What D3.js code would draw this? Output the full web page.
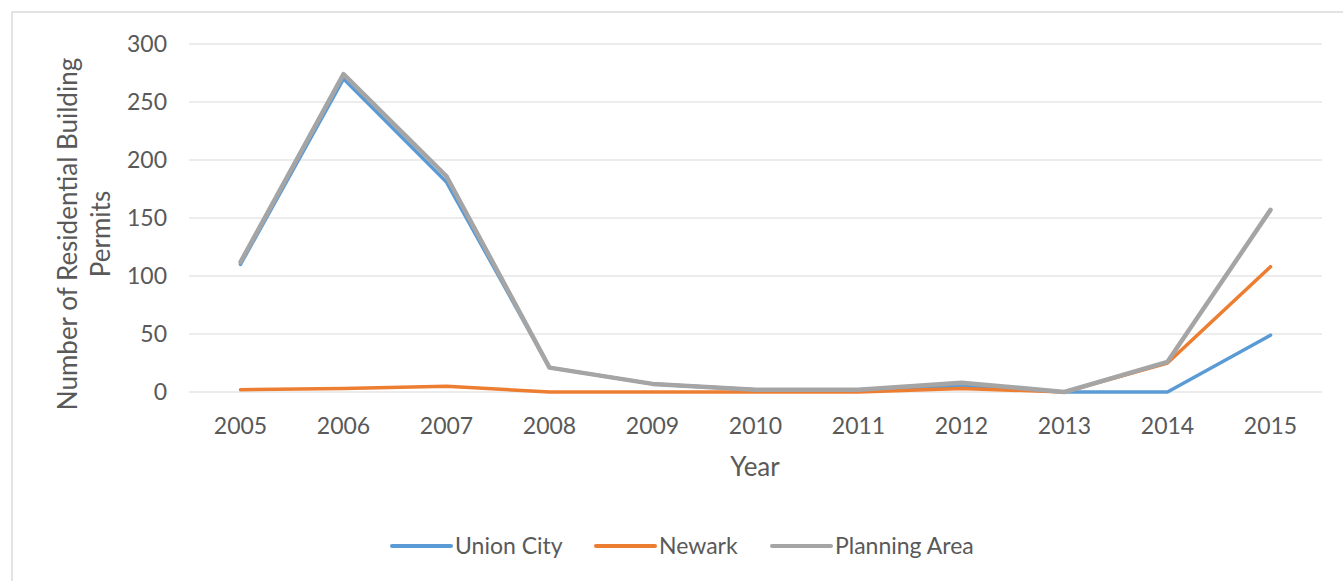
<!doctype html>
<meta charset="utf-8">
<head>
<script src="https://d3js.org/d3.v7.min.js"></script>
<style>
  body { margin: 0; background: #fff; }
  text { font-family: Lato, "Open Sans", sans-serif; fill: #595959; }
</style>
</head>
<body>
<svg width="1343" height="581"></svg>
<script>
    let years = ["2005", "2006", "2007", "2008", "2009", "2010", "2011", "2012", "2013", "2014", "2015"];
    let unionCity = [110, 270, 181, 21, 7, 2, 2, 5, 0, 0, 49];
    let newark = [2, 3, 5, 0, 0, 0, 0, 3, 0, 25, 108];
    let planningArea = [112, 274, 186, 21, 7, 2, 2, 8, 0, 26, 157];
    let yTicks = [0, 50, 100, 150, 200, 250, 300];

    let series = [
        { name: "Union City", values: unionCity, color: "#5b9bd5", width: 3.5 },
        { name: "Newark", values: newark, color: "#ed7d31", width: 3.5 },
        { name: "Planning Area", values: planningArea, color: "#a5a5a5", width: 4.5 }
    ];

    let svg = d3.select("svg");

    // chart frame
    svg.append("rect")
        .attr("x", 12).attr("y", 12)
        .attr("width", 1400).attr("height", 700)
        .attr("fill", "none")
        .attr("stroke", "#e3e3e3")
        .attr("stroke-width", 2);

    let plotLeft = 189, plotRight = 1322, plotTop = 44, plotBottom = 392;

    let x = d3.scaleBand().domain(years).range([plotLeft, plotRight]);
    let y = d3.scaleLinear().domain([0, 300]).range([plotBottom, plotTop]);

    // gridlines
    svg.append("g")
        .selectAll("line")
        .data(yTicks)
        .enter().append("line")
        .attr("x1", plotLeft).attr("x2", plotRight)
        .attr("y1", d => y(d)).attr("y2", d => y(d))
        .attr("stroke", "#e6e6e6")
        .attr("stroke-width", 1.5);

    // y axis labels
    let yAxis = svg.append("g")
        .attr("transform", `translate(${plotLeft - 22},0)`)
        .call(d3.axisLeft(y).tickValues(yTicks).tickSize(0).tickPadding(0));
    yAxis.select(".domain").remove();
    yAxis.selectAll("text")
        .attr("font-size", 23)
        .attr("font-family", null);

    // x axis labels
    let xAxis = svg.append("g")
        .attr("transform", `translate(0,${plotBottom + 26})`)
        .call(d3.axisBottom(x).tickSize(0).tickPadding(0));
    xAxis.select(".domain").remove();
    xAxis.selectAll("text")
        .attr("font-size", 23)
        .attr("font-family", null);

    // lines
    let line = d3.line()
        .x((d, i) => x(years[i]) + x.bandwidth() / 2)
        .y(d => y(d));

    svg.append("g")
        .selectAll("path")
        .data(series)
        .enter().append("path")
        .attr("fill", "none")
        .attr("stroke", d => d.color)
        .attr("stroke-width", d => d.width)
        .attr("stroke-linejoin", "round")
        .attr("stroke-linecap", "round")
        .attr("d", d => line(d.values));

    // axis titles
    svg.append("text")
        .attr("x", 755).attr("y", 476)
        .attr("text-anchor", "middle")
        .attr("font-size", 26)
        .text("Year");

    let yTitle = svg.append("text")
        .attr("transform", "translate(0,234) rotate(-90)")
        .attr("text-anchor", "middle")
        .attr("font-size", 26);
    yTitle.append("tspan").attr("x", 0).attr("y", 77).text("Number of Residential Building");
    yTitle.append("tspan").attr("x", 0).attr("y", 110).text("Permits");

    // legend
    let legendX = [392, 596, 772];
    let legend = svg.append("g")
        .selectAll("g")
        .data(series)
        .enter().append("g")
        .attr("transform", (d, i) => `translate(${legendX[i]},546)`);
    legend.append("line")
        .attr("x1", 0).attr("x2", 59)
        .attr("stroke", d => d.color)
        .attr("stroke-width", 4)
        .attr("stroke-linecap", "round");
    legend.append("text")
        .attr("x", 63).attr("dy", "0.35em")
        .attr("font-size", 23)
        .text(d => d.name);
</script>
</body>
